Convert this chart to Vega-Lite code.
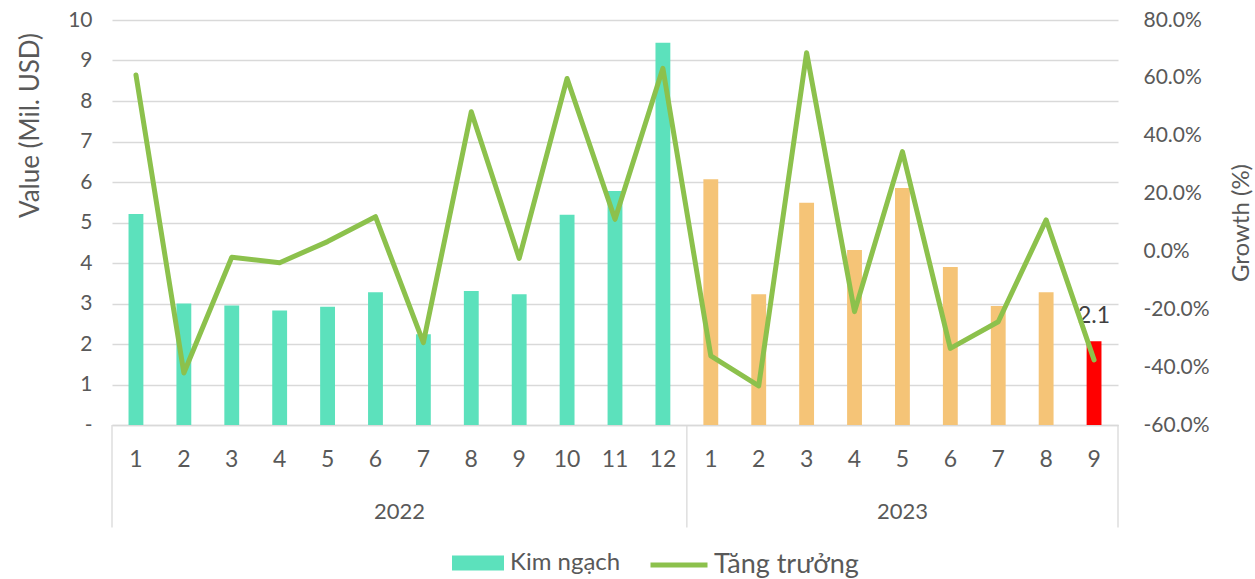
{
  "$schema": "https://vega.github.io/schema/vega-lite/v6.json",
  "width": 1006,
  "height": 405,
  "autosize": {"type": "none"},
  "padding": {"left": 112, "top": 20, "right": 137, "bottom": 154},
  "config": {
    "view": {"stroke": null},
    "font": "Lato",
    "axis": {"labelFont": "Lato", "titleFont": "Lato", "labelColor": "#595959", "titleColor": "#595959", "titleFontWeight": "normal"},
    "legend": {"labelFont": "Lato", "labelColor": "#595959"}
  },
  "datasets": {
    "main": [
      {"k": "2022-01", "v": 5.21, "g": 0.610, "grp": "Kim ngạch"},
      {"k": "2022-02", "v": 3.00, "g": -0.420, "grp": "Kim ngạch"},
      {"k": "2022-03", "v": 2.95, "g": -0.020, "grp": "Kim ngạch"},
      {"k": "2022-04", "v": 2.83, "g": -0.039, "grp": "Kim ngạch"},
      {"k": "2022-05", "v": 2.92, "g": 0.034, "grp": "Kim ngạch"},
      {"k": "2022-06", "v": 3.28, "g": 0.120, "grp": "Kim ngạch"},
      {"k": "2022-07", "v": 2.24, "g": -0.315, "grp": "Kim ngạch"},
      {"k": "2022-08", "v": 3.31, "g": 0.483, "grp": "Kim ngạch"},
      {"k": "2022-09", "v": 3.23, "g": -0.024, "grp": "Kim ngạch"},
      {"k": "2022-10", "v": 5.19, "g": 0.598, "grp": "Kim ngạch"},
      {"k": "2022-11", "v": 5.78, "g": 0.111, "grp": "Kim ngạch"},
      {"k": "2022-12", "v": 9.44, "g": 0.633, "grp": "Kim ngạch"},
      {"k": "2023-01", "v": 6.07, "g": -0.361, "grp": "y2023"},
      {"k": "2023-02", "v": 3.23, "g": -0.465, "grp": "y2023"},
      {"k": "2023-03", "v": 5.49, "g": 0.687, "grp": "y2023"},
      {"k": "2023-04", "v": 4.32, "g": -0.208, "grp": "y2023"},
      {"k": "2023-05", "v": 5.85, "g": 0.345, "grp": "y2023"},
      {"k": "2023-06", "v": 3.90, "g": -0.335, "grp": "y2023"},
      {"k": "2023-07", "v": 2.94, "g": -0.243, "grp": "y2023"},
      {"k": "2023-08", "v": 3.28, "g": 0.109, "grp": "y2023"},
      {"k": "2023-09", "v": 2.07, "g": -0.375, "grp": "last"}
    ]
  },
  "data": {"name": "main"},
  "layer": [
    {
      "layer": [
        {
          "mark": {"type": "bar", "width": {"band": 0.31}},
          "encoding": {
            "x": {
              "field": "k", "type": "ordinal",
              "scale": {"paddingInner": 0, "paddingOuter": 0},
              "axis": {"title": null, "labelExpr": "toNumber(slice(datum.value, 5)) + ''", "labelAngle": 0, "labelFontSize": 23, "labelPadding": 23, "ticks": false, "domainColor": "#D9D9D9", "domainWidth": 1.3, "grid": false}
            },
            "y": {
              "field": "v", "type": "quantitative",
              "scale": {"domain": [0, 10]},
              "axis": {"title": "Value (Mil. USD)", "titleY": 105, "values": [0, 1, 2, 3, 4, 5, 6, 7, 8, 9, 10], "labelExpr": "datum.value == 0 ? '-' : datum.label", "gridColor": "#D9D9D9", "gridWidth": 1.3, "domain": false, "ticks": false, "labelFontSize": 21, "titleFontSize": 26, "labelPadding": 20, "titlePadding": 24}
            },
            "color": {
              "field": "grp", "type": "nominal",
              "scale": {"domain": ["Kim ngạch", "y2023", "last"], "range": ["#5CE1BC", "#F5C477", "#FF0000"]},
              "legend": {"values": ["Kim ngạch"], "title": null, "orient": "none", "legendX": 339, "legendY": 516, "symbolType": "M-1,-0.29H1V0.29H-1Z", "symbolSize": 2704, "symbolOpacity": 1, "labelFontSize": 24, "labelOffset": 5}
            }
          }
        },
        {
          "data": {"values": [{"k": "2022-01"}, {"k": "2023-01"}]},
          "mark": {"type": "rule", "color": "#D9D9D9", "strokeWidth": 1.3},
          "encoding": {
            "x": {"field": "k", "type": "ordinal", "bandPosition": 0},
            "y": {"datum": 0, "type": "quantitative"},
            "y2": {"datum": -2.53}
          }
        },
        {
          "data": {"values": [{"k": "2023-09"}]},
          "mark": {"type": "rule", "color": "#D9D9D9", "strokeWidth": 1.3},
          "encoding": {
            "x": {"field": "k", "type": "ordinal", "bandPosition": 1},
            "y": {"datum": 0, "type": "quantitative"},
            "y2": {"datum": -2.53}
          }
        },
        {
          "data": {"values": [{"k": "2022-07", "year": "2022"}]},
          "mark": {"type": "text", "fontSize": 22, "color": "#595959", "baseline": "middle"},
          "encoding": {
            "x": {"field": "k", "type": "ordinal", "bandPosition": 0},
            "y": {"datum": -2.15, "type": "quantitative"},
            "text": {"field": "year"}
          }
        },
        {
          "data": {"values": [{"k": "2023-05", "year": "2023"}]},
          "mark": {"type": "text", "fontSize": 22, "color": "#595959", "baseline": "middle"},
          "encoding": {
            "x": {"field": "k", "type": "ordinal", "bandPosition": 0.5},
            "y": {"datum": -2.15, "type": "quantitative"},
            "text": {"field": "year"}
          }
        },
        {
          "transform": [{"filter": "datum.k == '2023-09'"}],
          "mark": {"type": "text", "fontSize": 23, "color": "#404040", "baseline": "bottom", "dy": -13},
          "encoding": {
            "x": {"field": "k", "type": "ordinal"},
            "y": {"field": "v", "type": "quantitative"},
            "text": {"field": "v", "format": ".1f"}
          }
        }
      ]
    },
    {
      "mark": {"type": "line", "strokeWidth": 5, "strokeJoin": "round", "strokeCap": "round"},
      "encoding": {
        "x": {"field": "k", "type": "ordinal"},
        "y": {
          "field": "g", "type": "quantitative",
          "scale": {"domain": [-0.6, 0.8]},
          "axis": {"orient": "right", "title": "Growth (%)", "titleAngle": 270, "values": [-0.6, -0.4, -0.2, 0, 0.2, 0.4, 0.6, 0.8], "labelExpr": "replace(format(datum.value, '.1%'), '\u2212', '-')", "grid": false, "domain": false, "ticks": false, "labelFontSize": 21, "titleFontSize": 24, "labelPadding": 25, "titlePadding": 44}
        },
        "stroke": {
          "datum": "Tăng trưởng", "type": "nominal",
          "scale": {"range": ["#8CC14C"]},
          "legend": {"title": null, "orient": "none", "legendX": 536, "legendY": 514, "symbolType": "stroke", "symbolStrokeWidth": 5, "symbolSize": 3249, "labelFontSize": 27, "labelOffset": 4}
        }
      }
    }
  ],
  "resolve": {"scale": {"y": "independent"}}
}
